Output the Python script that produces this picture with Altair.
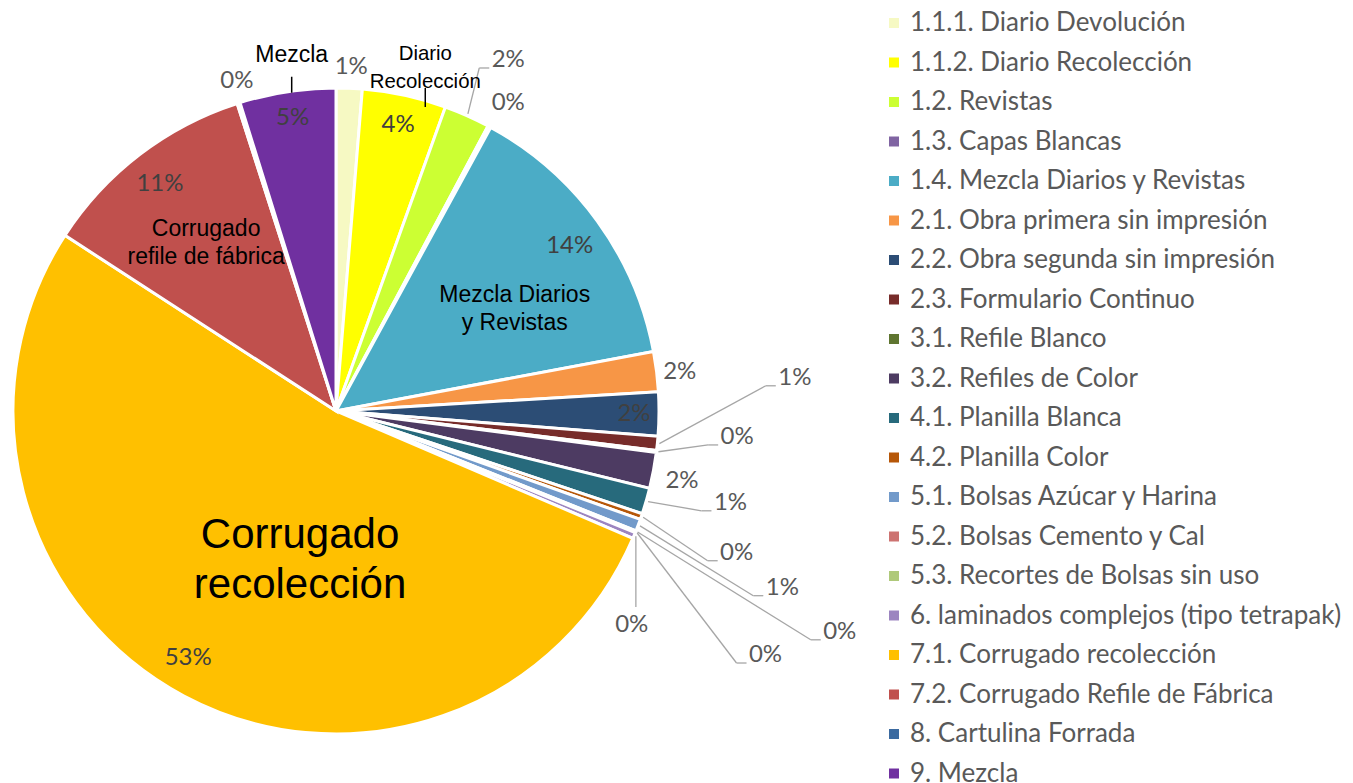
import altair as alt
import pandas as pd

# ---- data -------------------------------------------------------------
categories = [
    "1.1.1. Diario Devolución",
    "1.1.2. Diario Recolección",
    "1.2. Revistas",
    "1.3. Capas Blancas",
    "1.4. Mezcla Diarios y Revistas",
    "2.1. Obra primera sin impresión",
    "2.2. Obra segunda sin impresión",
    "2.3. Formulario Continuo",
    "3.1. Refile Blanco",
    "3.2. Refiles de Color",
    "4.1. Planilla Blanca",
    "4.2. Planilla Color",
    "5.1. Bolsas Azúcar y Harina",
    "5.2. Bolsas Cemento y Cal",
    "5.3. Recortes de Bolsas sin uso",
    "6. laminados complejos (tipo tetrapak)",
    "7.1. Corrugado recolección",
    "7.2. Corrugado Refile de Fábrica",
    "8. Cartulina Forrada",
    "9. Mezcla",
]
values = [1.3, 4.2, 2.3, 0.15, 14.1, 2.0, 2.2, 0.7, 0.1, 1.8,
          1.3, 0.3, 0.6, 0.05, 0.05, 0.3, 52.7, 10.9, 0.15, 4.8]

# category captions drawn on the pie (text only)
captions = ["", "Diario\nRecolección", "", "", "Mezcla Diarios\ny Revistas",
            "", "", "", "", "", "", "", "", "", "", "",
            "Corrugado\nrecolección", "Corrugado\nrefile de fábrica", "", "Mezcla"]

# ---- styles / layout ---------------------------------------------------
colors = ["#F6F9C3", "#FFFF00", "#CCFF33", "#8064A2", "#4BACC6", "#F79646",
          "#2C4D75", "#772C2A", "#5F7530", "#4D3B62", "#276A7C", "#B65708",
          "#729ACA", "#CD7371", "#AFC97A", "#9C85C0", "#FFC000", "#C0504D",
          "#3B6AA0", "#7030A0"]
label_r = [344, 293, 391, 353, 286, 346, 298, 460, 402, 353,
           405, 425, 480, 550, 494, 365, 288, 287, 345, 296]
label_dang = [0.2, 0, 2.2, 0.85, 0.8, 0.5, 0, -9.9, -3.5, 0.8,
              -3.1, 0.4, 0.9, 1.8, 7.55, 13.2, 2.8, -0.4, 0.85, 0.2]
leader = [0, 0, 1, 0, 0, 0, 0, 1, 1, 0, 1, 1, 1, 1, 1, 2, 0, 0, 0, 0]
inside = [0, 1, 0, 0, 1, 0, 1, 0, 0, 0, 0, 0, 0, 0, 0, 0, 1, 1, 0, 1]
cap_r = [0, 368, 0, 0, 213, 0, 0, 0, 0, 0, 0, 0, 0, 0, 0, 0, 129, 224, 0, 359]
cap_dang = [0, 1.8, 0, 0, 3.05, 0, 0, 0, 0, 0, 0, 0, 0, 0, 0, 0, -11.9, 2.0, 0, 1.55]
cap_size = [0, 20.4, 0, 0, 23, 0, 0, 0, 0, 0, 0, 0, 0, 0, 0, 0, 42, 23, 0, 23]
tick_a = [0, 34, 0, 0, 0, 0, 0, 0, 0, 0, 0, 0, 0, 0, 0, 0, 0, 0, 0, 22]
tick_b = [0, 53, 0, 0, 0, 0, 0, 0, 0, 0, 0, 0, 0, 0, 0, 0, 0, 0, 0, 38]

CX, CY, R = 328, 403, 323

df = pd.DataFrame({
    "cat": categories, "value": values, "idx": list(range(len(categories))),
    "lr": label_r, "dang": label_dang, "leader": leader, "inside": inside,
    "cap": captions, "cr": cap_r, "cdang": cap_dang, "csize": cap_size,
    "ta": tick_a, "tb": tick_b,
})

pie = alt.Chart(df).mark_arc(outerRadius=R, stroke="white", strokeWidth=3).encode(
    theta=alt.Theta("value:Q", stack=True),
    color=alt.Color(
        "cat:N",
        scale=alt.Scale(domain=categories, range=colors),
        sort=categories,
        legend=alt.Legend(
            orient="none", legendX=873, legendY=2, title=None,
            symbolType="square", symbolSize=100, symbolStrokeWidth=0,
            labelFont="Lato", labelFontSize=26, labelColor="#595959",
            labelOffset=3, rowPadding=13.5, padding=0, labelLimit=600,
        ),
    ),
    order=alt.Order("idx:Q"),
    x=alt.value(CX),
    y=alt.value(CY),
)

base = (
    alt.Chart(df)
    .transform_joinaggregate(total="sum(value)")
    .transform_window(cum="sum(value)", sort=[alt.SortField("idx", order="ascending")], frame=[None, 0])
    .transform_calculate(mid="2*PI*(datum.cum - datum.value/2)/datum.total")
    .transform_calculate(
        lx=f"{CX} + datum.lr*sin(datum.mid + datum.dang*PI/180)",
        ly=f"{CY} - datum.lr*cos(datum.mid + datum.dang*PI/180)",
        pct="format(datum.value/datum.total, '.0%')",
    )
)

labels = base.mark_text(font="Lato", fontSize=24, align="center", baseline="middle").encode(
    x=alt.X("lx:Q", scale=None, axis=None),
    y=alt.Y("ly:Q", scale=None, axis=None),
    text="pct:N",
    color=alt.condition("datum.inside == 1", alt.value("#404040"), alt.value("#595959")),
)

lead = base.transform_filter("datum.leader > 0").transform_calculate(
    sx=f"{CX} + {R + 2}*sin(datum.mid)",
    sy=f"{CY} - {R + 2}*cos(datum.mid)",
).transform_calculate(
    ex="datum.leader == 2 ? datum.sx : datum.lx - 29",
    ey="datum.leader == 2 ? datum.ly - 18 : datum.ly + 8",
).transform_calculate(
    fx="datum.leader == 2 ? datum.ex : datum.ex + 10",
)

lead1 = lead.mark_rule(color="#A6A6A6", strokeWidth=1.3).encode(
    x=alt.X("sx:Q", scale=None), y=alt.Y("sy:Q", scale=None), x2="ex:Q", y2="ey:Q"
)
lead2 = lead.mark_rule(color="#A6A6A6", strokeWidth=1.3).encode(
    x=alt.X("ex:Q", scale=None), y=alt.Y("ey:Q", scale=None), x2="fx:Q", y2="ey:Q"
)

cap = base.transform_filter("datum.cap != ''").transform_calculate(
    ax=f"{CX} + datum.cr*sin(datum.mid + datum.cdang*PI/180)",
    ay=f"{CY} - datum.cr*cos(datum.mid + datum.cdang*PI/180)",
)

cap_big = cap.transform_filter("datum.csize > 30").mark_text(
    font="Liberation Sans", lineBreak="\n", lineHeight=50, align="center",
    baseline="middle", color="black",
).encode(
    x=alt.X("ax:Q", scale=None), y=alt.Y("ay:Q", scale=None),
    text="cap:N", size=alt.Size("csize:Q", scale=None, legend=None),
)
cap_small = cap.transform_filter("datum.csize <= 30").mark_text(
    font="Liberation Sans", lineBreak="\n", lineHeight=28, align="center",
    baseline="middle", color="black",
).encode(
    x=alt.X("ax:Q", scale=None), y=alt.Y("ay:Q", scale=None),
    text="cap:N", size=alt.Size("csize:Q", scale=None, legend=None),
)

ticks = cap.transform_filter("datum.tb > 0").transform_calculate(
    ty1="datum.ay + datum.ta", ty2="datum.ay + datum.tb"
).mark_rule(color="black", strokeWidth=1.5).encode(
    x=alt.X("ax:Q", scale=None), y=alt.Y("ty1:Q", scale=None), y2="ty2:Q"
)

chart = (
    alt.layer(pie, lead1, lead2, labels, cap_big, cap_small, ticks)
    .properties(width=1337, height=775, padding=0, autosize="none")
    .configure_view(stroke=None)
)

chart.save("out.html", embed_options={"renderer": "svg", "actions": False})
